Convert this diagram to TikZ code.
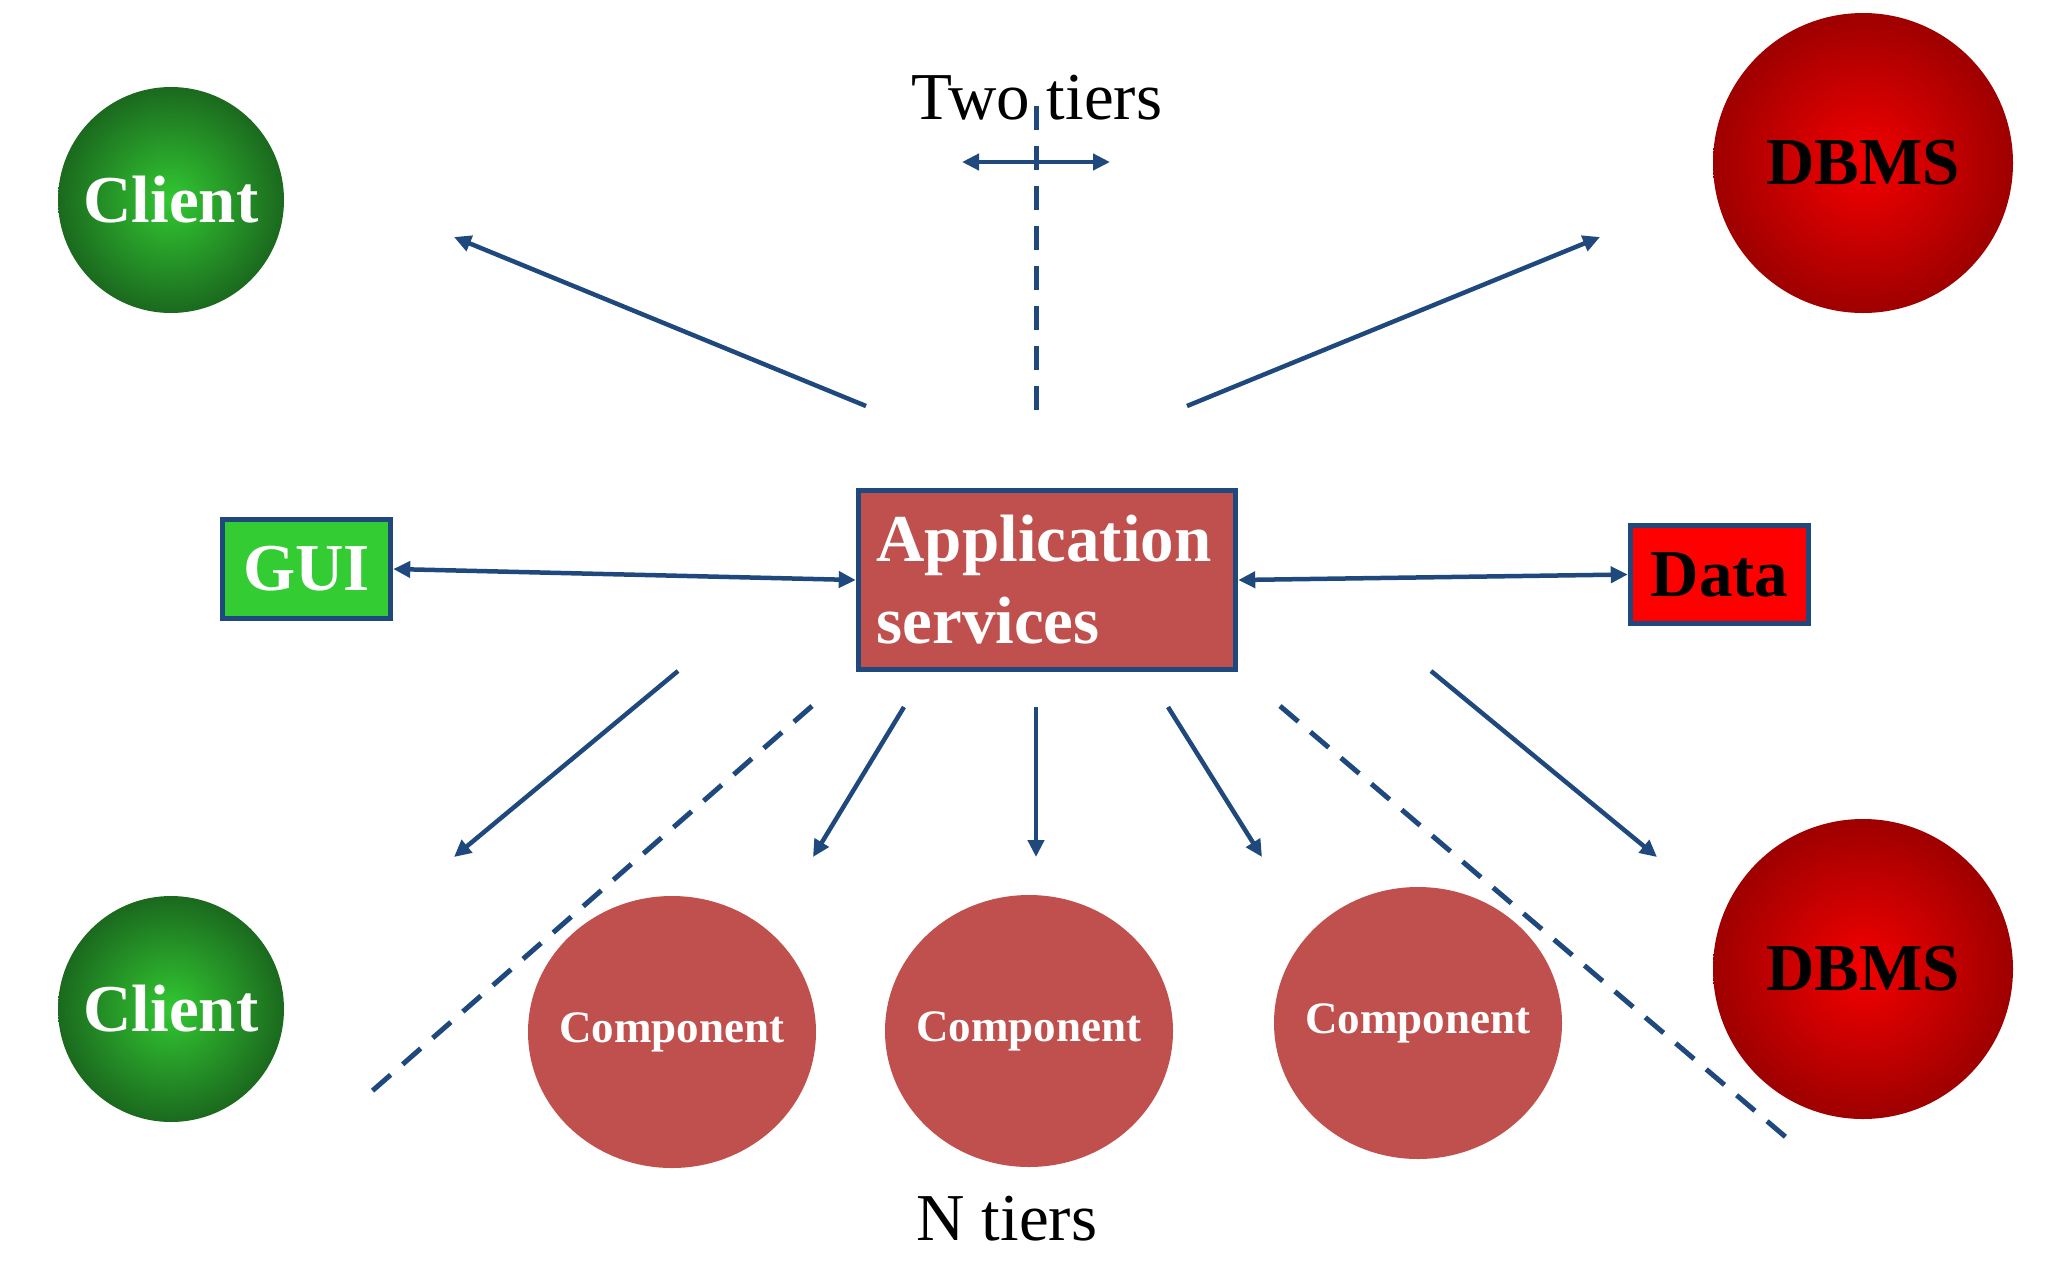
\documentclass[tikz,border=0pt]{standalone}
\usepackage{fontspec}
\setmainfont{Liberation Serif}
\usetikzlibrary{arrows.meta,shapes.geometric}
\definecolor{lineblue}{HTML}{1F497D}
\definecolor{appred}{HTML}{C0504D}
\definecolor{guigreen}{HTML}{33CC33}
\definecolor{datared}{HTML}{FF0000}
\definecolor{ballgreenin}{RGB}{50,200,50}
\definecolor{ballgreenout}{RGB}{27,105,30}
\definecolor{ballredin}{RGB}{245,0,0}
\definecolor{ballredout}{RGB}{158,0,0}
\begin{document}
\begin{tikzpicture}[x=1pt,y=-1pt,
  link/.style={draw=lineblue, line width=4.5pt, -{Triangle[length=17pt,width=16pt]}},
  dlink/.style={draw=lineblue, line width=4.5pt, {Triangle[length=17pt,width=16pt]}-{Triangle[length=17pt,width=16pt]}},
  divider/.style={draw=lineblue, line width=5pt, dash pattern=on 24pt off 16pt},
  bigtext/.style={font=\fontsize{67}{82}\selectfont\bfseries},
  clientball/.style={circle, minimum size=226pt, inner sep=0pt, inner color=ballgreenin, outer color=ballgreenout, text=white, bigtext},
  dbmsball/.style={circle, minimum size=300pt, inner sep=0pt, inner color=ballredin, outer color=ballredout, text=black, bigtext},
  boxnode/.style={rectangle, draw=lineblue, line width=5.5pt, inner sep=0pt},
  compshape/.style={ellipse, fill=appred, minimum width=288pt, minimum height=272pt, inner sep=0pt},
  comptext/.style={text=white, inner sep=0pt, font=\fontsize{45}{54}\selectfont\bfseries},
  label/.style={font=\fontsize{67}{80}\selectfont, text=black, inner sep=0pt}
]
\useasboundingbox (0,0) rectangle (2046,1270);

% titles
\node[label, anchor=base] (twotiers) at (1037,119) {Two tiers};
\node[label, anchor=base] (ntiers) at (1007,1240) {N tiers};

% balls
\node[clientball] (client1) at (171,200) {Client};
\node[clientball] (client2) at (171,1009) {Client};
\node[dbmsball] (dbms1) at (1863,163) {DBMS};
\node[dbmsball] (dbms2) at (1863,969) {DBMS};

% boxes
\node[boxnode, fill=guigreen, minimum width=168pt, minimum height=99pt, text=white, bigtext] (gui) at (306.5,569) {GUI};
\node[boxnode, fill=appred, minimum width=377pt, minimum height=179pt, text=white, bigtext, align=left, text width=341pt, inner xsep=18pt] (app) at (1047,580) {Application\\services};
\node[boxnode, fill=datared, minimum width=178pt, minimum height=98pt, text=black, bigtext] (data) at (1719.5,574.5) {Data};

% components
\node[compshape] (comp1) at (672,1032) {};
\node[compshape] (comp2) at (1029,1031) {};
\node[compshape] (comp3) at (1418,1023) {};
\node[comptext] (comp1t) at (comp1.center) {Component};
\node[comptext] (comp2t) at (comp2.center) {Component};
\node[comptext] (comp3t) at (comp3.center) {Component};

% free arrow ends
\coordinate (tl0) at (866,406);   \coordinate (tl1) at (454,237);
\coordinate (tr0) at (1187,406);  \coordinate (tr1) at (1600,237);
\coordinate (tv0) at (1036,106);  \coordinate (tv1) at (1036,410);
\coordinate (th0) at (962,162);   \coordinate (th1) at (1110,162);
\coordinate (b10) at (678,671);   \coordinate (b11) at (454,857);
\coordinate (bd10) at (812,706);  \coordinate (bd11) at (371,1092);
\coordinate (b20) at (904,707);   \coordinate (b21) at (813,857);
\coordinate (b30) at (1036,707);  \coordinate (b31) at (1036,857);
\coordinate (b40) at (1168,707);  \coordinate (b41) at (1262,857);
\coordinate (bd20) at (1280,706); \coordinate (bd21) at (1788,1139);
\coordinate (b50) at (1431,671);  \coordinate (b51) at (1657,857);

% top connectors
\draw[link] (tl0) -- (tl1);
\draw[link] (tr0) -- (tr1);
\draw[divider] (tv0) -- (tv1);
\draw[dlink] (th0) -- (th1);

% middle connectors
\draw[dlink] (gui.east) -- (app.west);
\draw[dlink] (app.east) -- (data.west);

% bottom connectors
\draw[link] (b10) -- (b11);
\draw[divider] (bd10) -- (bd11);
\draw[link] (b20) -- (b21);
\draw[link] (b30) -- (b31);
\draw[link] (b40) -- (b41);
\draw[divider] (bd20) -- (bd21);
\draw[link] (b50) -- (b51);
\end{tikzpicture}
\end{document}
